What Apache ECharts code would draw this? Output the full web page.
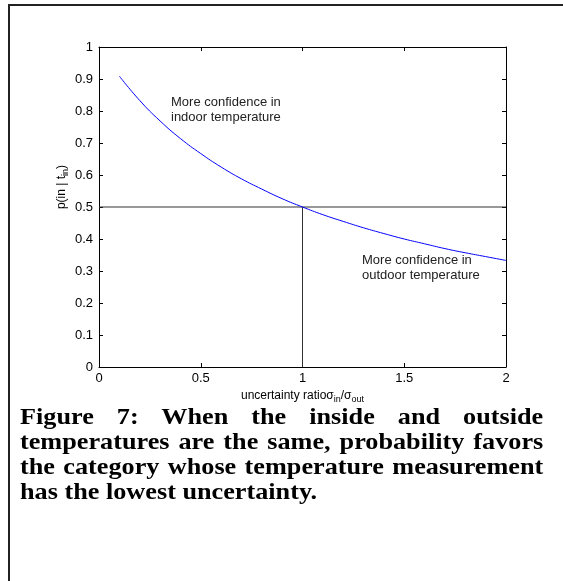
<!DOCTYPE html>
<html>
<head>
<meta charset="utf-8">
<script src="https://cdn.jsdelivr.net/npm/echarts@6/dist/echarts.min.js"></script>
<style>
body{margin:0;background:#fff;}
#frame{position:absolute;left:8px;top:4px;width:600px;height:600px;border-left:2px solid #222;border-top:2px solid #222;}
#chart{position:absolute;left:0;top:0;width:563px;height:581px;}
#caption{position:absolute;left:20px;top:404px;width:459px;font-family:"Liberation Serif","Times New Roman",serif;font-weight:bold;font-size:23px;line-height:25px;color:#000;transform:scaleX(1.14);transform-origin:0 0;}
#caption span{display:block;text-align:justify;text-align-last:justify;white-space:nowrap;}
#caption span.last{text-align-last:left;}
</style>
</head>
<body>
<div id="frame"></div>
<div id="chart"></div>
<div id="caption"><span>Figure 7: When the inside and outside</span><span>temperatures are the same, probability favors</span><span>the category whose temperature measurement</span><span class="last">has the lowest uncertainty.</span></div>
<script>
// ratio sigma_in / sigma_out and p(in | t_in)
var ratio = [0.1,0.2,0.3,0.4,0.5,0.6,0.7,0.8,0.9,1.0,1.1,1.2,1.3,1.4,1.5,1.6,1.7,1.8,1.9,2.0];
var prob = [0.909,0.833,0.769,0.714,0.667,0.625,0.588,0.556,0.526,0.500,0.476,0.455,0.435,0.417,0.400,0.385,0.370,0.357,0.345,0.333];
var xTicks = [0,0.5,1,1.5,2];
var refH = [[0,0.5],[2,0.5]];
var refV = [[1,0],[1,0.5]];

var curve = [];
for(var i=0;i<ratio.length;i++){
	curve.push([ratio[i],prob[i]]);
}

var font = '"Liberation Sans", Arial, sans-serif';
var chart = echarts.init(document.getElementById('chart'));

function axis(extra){
	var a = {
		type:'value',
		min:0,
		axisLine:{show:true,onZero:false,lineStyle:{color:'#000',width:1}},
		axisTick:{show:true,inside:true,length:4,lineStyle:{color:'#000'}},
		splitLine:{show:false},
		axisLabel:{show:false}
	};
	return Object.assign(a,extra);
}

var subRich = {
	n:{fontSize:12,lineHeight:14,verticalAlign:'top',fontFamily:font,color:'#000'},
	sub:{fontSize:9,lineHeight:14,padding:[5,0,0,0],verticalAlign:'top',fontFamily:font,color:'#000'}
};

var option = {
	animation:false,
	grid:{left:99,right:57,top:47,bottom:214,containLabel:false},
	xAxis:[
		axis({position:'bottom',max:2,interval:0.5,
			axisLabel:{show:true,color:'#000',fontFamily:font,fontSize:13,margin:5,
				formatter:function(v){return xTicks.indexOf(v)>=0?String(v):'';}},
			name:'{n|uncertainty ratioσ}{sub|in}{n|/σ}{sub|out}',nameLocation:'middle',nameGap:12,
			nameTextStyle:{rich:subRich}}),
		axis({position:'top',max:2,interval:0.5})
	],
	yAxis:[
		axis({position:'left',max:1,interval:0.1,
			axisLabel:{show:true,color:'#000',fontFamily:font,fontSize:13,margin:6}}),
		axis({position:'right',max:1,interval:0.1})
	],
	graphic:[
		{type:'text',x:63,y:187,rotation:Math.PI/2,
			style:{text:'{n|p(in | t}{sub|in}{n|)}',align:'center',verticalAlign:'middle',rich:subRich}},
		{type:'text',left:171,top:95,style:{text:'More confidence in\nindoor temperature',font:'13px '+font,fill:'#222',lineHeight:15}},
		{type:'text',left:362,top:253,style:{text:'More confidence in\noutdoor temperature',font:'13px '+font,fill:'#222',lineHeight:15}}
	],
	series:[
		{type:'line',data:refH,symbol:'none',lineStyle:{color:'#333',width:1},silent:true},
		{type:'line',data:refV,symbol:'none',lineStyle:{color:'#333',width:1},silent:true},
		{type:'line',data:curve,symbol:'none',smooth:true,lineStyle:{color:'#0000ff',width:1},silent:true}
	]
};
chart.setOption(option);
</script>
</body>
</html>
